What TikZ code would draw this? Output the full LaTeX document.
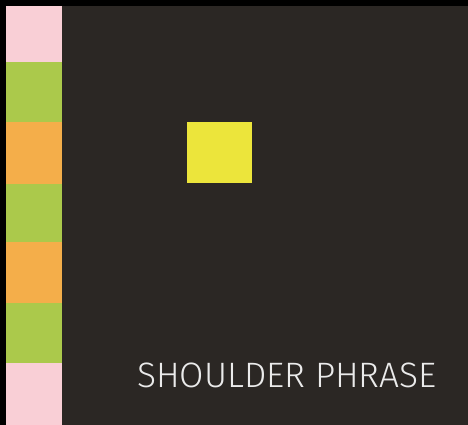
\documentclass[tikz,border=0pt]{standalone}
\usepackage{fontspec}
\setmainfont{Fira Sans Light}
\definecolor{boardbg}{HTML}{2B2724}
\definecolor{blockpink}{HTML}{F9CFD6}
\definecolor{blockgreen}{HTML}{ABC94B}
\definecolor{blockorange}{HTML}{F4AE4A}
\definecolor{beatyellow}{HTML}{ECE53B}
\begin{document}
\begin{tikzpicture}[x=1pt,y=-1pt,
  label/.style={text=white!92!black,font=\fontsize{35.3}{40}\selectfont,inner sep=0pt}]
\useasboundingbox (0,0) rectangle (468,425);
% frame and board:
\fill[black] (0,0) rectangle (468,425);
\fill[boardbg] (6,6) rectangle (468,425);
% left strip:
\fill[blockpink] (6,6) rectangle (62,62);
\fill[blockgreen] (6,62) rectangle (62,122);
\fill[blockorange] (6,122) rectangle (62,184);
\fill[blockgreen] (6,184) rectangle (62,242);
\fill[blockorange] (6,242) rectangle (62,303);
\fill[blockgreen] (6,303) rectangle (62,363);
\fill[blockpink] (6,363) rectangle (62,425);
% beat:
\fill[beatyellow] (187,122) rectangle (252,183);
% caption:
\node[label,anchor=base west] (phrase) at (137,387) {SHOULDER PHRASE};
\end{tikzpicture}
\end{document}
